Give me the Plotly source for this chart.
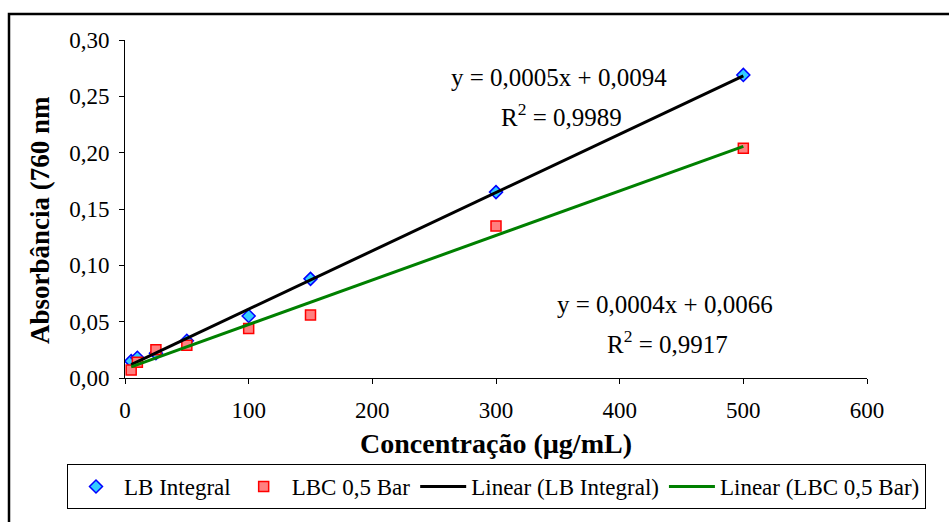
import numpy as np
import plotly.graph_objects as go

conc = [5, 10, 25, 50, 100, 150, 300, 500]
lb_integral = [0.015, 0.018, 0.022, 0.033, 0.055, 0.088, 0.165, 0.269]
lbc_05bar = [0.007, 0.014, 0.025, 0.029, 0.044, 0.056, 0.135, 0.204]

eq1 = ["y = 0,0005x + 0,0094", "R<sup>2</sup> = 0,9989"]
eq2 = ["y = 0,0004x + 0,0066", "R<sup>2</sup> = 0,9917"]
x_title = "Concentração (µg/mL)"
y_title = "Absorbância (760 nm"

FONT = "Liberation Serif"
W, H = 949, 522
PL, PR, PT, PB = 125, 867, 40, 378  # plot area in px


def px_x(px):
    return (px - PL) / (PR - PL)


def px_y(py):
    return (PB - py) / (PB - PT)


x_arr = np.array(conc, dtype=float)
xl = np.array([x_arr.min(), x_arr.max()])
p1 = np.polyfit(x_arr, lb_integral, 1)
p2 = np.polyfit(x_arr, lbc_05bar, 1)

fig = go.Figure()
fig.add_trace(go.Scatter(x=conc, y=lb_integral, mode="markers", name="LB Integral",
                         marker=dict(symbol="diamond", size=10, color="#33CCFF",
                                     line=dict(color="#0000FF", width=1.5))))
fig.add_trace(go.Scatter(x=conc, y=lbc_05bar, mode="markers", name="LBC 0,5 Bar",
                         marker=dict(symbol="square", size=10, color="#FF8080",
                                     line=dict(color="#FF0000", width=1.5))))
fig.add_trace(go.Scatter(x=xl, y=np.polyval(p1, xl), mode="lines", name="Linear (LB Integral)",
                         line=dict(color="black", width=3)))
fig.add_trace(go.Scatter(x=xl, y=np.polyval(p2, xl), mode="lines", name="Linear (LBC 0,5 Bar)",
                         line=dict(color="#008000", width=3)))

axis_common = dict(showline=True, linecolor="black", linewidth=1, ticks="outside",
                   ticklen=5, tickcolor="black", showgrid=False, zeroline=False,
                   automargin=False,
                   tickfont=dict(family=FONT, size=23, color="black"))

fig.update_xaxes(range=[0, 600], tick0=0, dtick=100, ticklabelstandoff=6, **axis_common,
                 title=dict(text="<b>" + x_title + "</b>",
                            font=dict(family=FONT, size=28, color="black"), standoff=11))
fig.update_yaxes(range=[0, 0.30], tick0=0, dtick=0.05, tickformat=".2f",
                 ticklabelstandoff=5, **axis_common)

# y-axis title (placed as rotated text at its exact position)
fig.add_annotation(xref="paper", yref="paper", x=px_x(40), y=px_y(220),
                   text="<b>" + y_title + "</b>", textangle=-90, showarrow=False,
                   xanchor="center", yanchor="middle",
                   font=dict(family=FONT, size=27, color="black"))

annots = [
    (559, 0.2665, eq1[0]), (561, 0.233, eq1[1]),
    (665, 0.065, eq2[0]), (667, 0.032, eq2[1]),
]
for ax_px, yv, txt in annots:
    xv = (ax_px - PL) / (PR - PL) * 600
    fig.add_annotation(x=xv, y=yv, text=txt, showarrow=False, xanchor="center",
                       yanchor="middle", font=dict(family=FONT, size=25, color="black"))

fig.add_shape(type="rect", xref="paper", yref="paper",
              x0=px_x(9), x1=1.2, y0=-0.7, y1=px_y(14),
              line=dict(color="black", width=2.5), fillcolor="rgba(0,0,0,0)", layer="below")

fig.update_layout(
    width=W, height=H,
    margin=dict(l=PL, r=W - PR, t=PT, b=H - PB),
    paper_bgcolor="white", plot_bgcolor="white",
    font=dict(family=FONT, color="black"),
    separators=",.",
    showlegend=True,
    legend=dict(orientation="h", x=px_x(67), y=px_y(509),
                xanchor="left", yanchor="bottom",
                bordercolor="black", borderwidth=1, bgcolor="white",
                font=dict(family=FONT, size=23, color="black"),
                itemwidth=46, tracegroupgap=0),
)

fig.write_html("out.html")
